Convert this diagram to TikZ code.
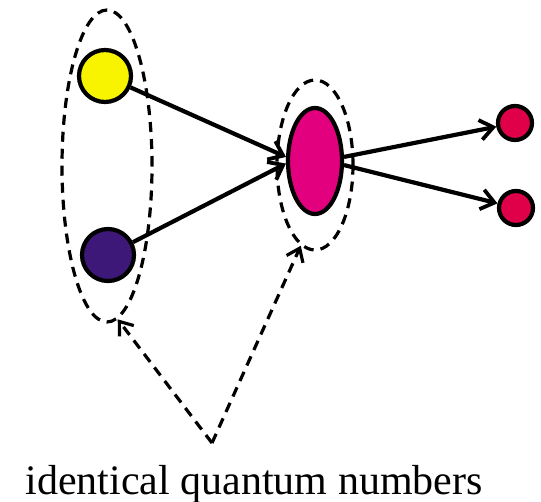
\documentclass[tikz,border=0pt]{standalone}
\usepackage{fontspec}
\setmainfont{Liberation Serif}
\usetikzlibrary{shapes.geometric,arrows.meta}
\definecolor{cyel}{HTML}{F8F400}
\definecolor{cpur}{HTML}{3E1878}
\definecolor{cpink}{HTML}{E2007F}
\definecolor{cred}{HTML}{E0004A}
\begin{document}
\begin{tikzpicture}[x=1pt,y=-1pt,
  ball/.style={circle,draw=black,line width=4.2pt,inner sep=0pt},
  halo/.style={ellipse,draw=black,line width=3.2pt,dash pattern=on 10pt off 7pt,inner sep=0pt},
  conn/.style={line width=4.2pt,-{Straight Barb[length=13pt,width=20pt,line width=3.8pt]}},
  dconn/.style={line width=3.2pt,dash pattern=on 10pt off 7pt,-{Straight Barb[length=12pt,width=18pt,line width=3.2pt]}}]
\useasboundingbox (0,0) rectangle (541,502);
\node[halo,minimum width=90pt,minimum height=312pt] (bigell) at (107,166) {};
\node[halo,minimum width=76pt,minimum height=170pt] (smallell) at (315,165) {};
\node[ball,fill=cyel,minimum size=52pt] (yellow) at (105,76) {};
\node[ball,fill=cpur,minimum size=52pt] (purple) at (108,255) {};
\node[ellipse,draw=black,line width=4.2pt,inner sep=0pt,fill=cpink,minimum width=54pt,minimum height=106pt] (pink) at (315,161) {};
\node[ball,fill=cred,minimum size=34pt] (red1) at (515,123) {};
\node[ball,fill=cred,minimum size=34pt] (red2) at (516,208) {};
\draw[conn] (yellow) -- (pink.172);
\draw[conn] (purple) -- (pink.185);
\draw[conn] (pink.8) -- (red1);
\draw[conn] (pink.-8) -- (red2);
\coordinate (apex) at (212,443);
\draw[dconn] (apex) -- (bigell.-86);
\draw[dconn] (apex) -- (smallell.260);
\node[anchor=base,font=\fontsize{42}{50}\selectfont,inner sep=0pt] (label) at (254,494) {identical quantum numbers};
\end{tikzpicture}
\end{document}
